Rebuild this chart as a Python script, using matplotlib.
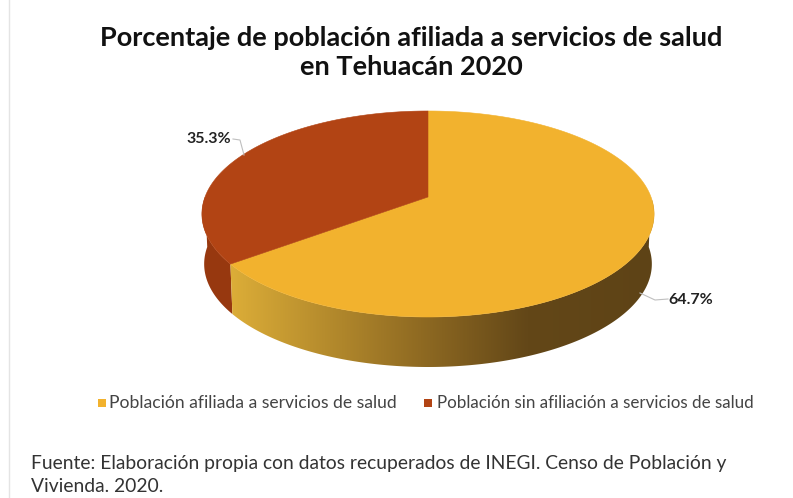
import matplotlib
matplotlib.use("Agg")
import matplotlib.pyplot as plt
from matplotlib.colors import LinearSegmentedColormap
from matplotlib.patches import Polygon, Rectangle
import numpy as np

titulo = "Porcentaje de población afiliada a servicios de salud\nen Tehuacán 2020"
categorias = ["Población afiliada a servicios de salud", "Población sin afiliación a servicios de salud"]
valores = [64.7, 35.3]
etiquetas = ["64.7%", "35.3%"]
colores = ["#F2B22E", "#B24414"]
fuente = "Fuente: Elaboración propia con datos recuperados de INEGI. Censo de Población y\nVivienda. 2020."

plt.rcParams["font.family"] = ["Lato", "DejaVu Sans"]

# geometria del pastel en pixeles de la imagen
CX, CY = 428, 197
A, B = 223, 100.2
P = 0.165
GROSOR = 50


def proyectar(ang, r=1.0, abajo=False):
    # ang en grados, 0 arriba y sentido horario
    t = np.radians(ang)
    u = r * np.sin(t)
    v = r * np.cos(t)
    w = 1 + P * v
    x = CX + A * u / w
    y = CY - B * v / w
    if abajo:
        x = CX + (x - CX) * 0.99
        y = y + GROSOR
    return x, y


def borde(a0, a1, abajo=False):
    ang = np.linspace(a0, a1, 200)
    return np.column_stack(proyectar(ang, abajo=abajo))


fig = plt.figure(figsize=(7.93, 4.98), dpi=100)
ax = fig.add_axes([0, 0, 1, 1])
ax.set_xlim(0, 793)
ax.set_ylim(498, 0)
ax.axis("off")

# marco gris tenue
ax.add_patch(Rectangle((8.5, -5), 800, 600, fill=False, ec="#E4E4E4", lw=1))

ax.text(411, 52, titulo, ha="center", va="center", fontsize=19.5, fontweight="bold",
        color="#111111", linespacing=1.25)

fin_amarillo = valores[0] / 100 * 360

# lado rojo
lado_rojo = np.vstack([borde(fin_amarillo, 270), borde(fin_amarillo, 270, abajo=True)[::-1]])
ax.add_patch(Polygon(lado_rojo, fc="#97380F", ec="none", zorder=2))

# lado amarillo con degradado
lado_am = np.vstack([borde(90, fin_amarillo), borde(90, fin_amarillo, abajo=True)[::-1]])
cmap_lado = LinearSegmentedColormap.from_list(
    "lado", [(0, "#DDAE38"), (0.45, "#8F6A22"), (0.7, "#634718"), (1, "#5E4316")])
parche = Polygon(lado_am, fc="none", ec="none", transform=ax.transData)
ax.add_patch(parche)
img = ax.imshow(np.linspace(0, 1, 256)[None, :], cmap=cmap_lado, extent=[228, 656, 380, 200],
                aspect="auto", zorder=2)
img.set_clip_path(parche)
ax.set_xlim(0, 793)
ax.set_ylim(498, 0)

# tapa superior
centro = proyectar(0, r=0.0)
tapa_am = np.vstack([[centro], borde(0, fin_amarillo)])
tapa_ro = np.vstack([[centro], borde(fin_amarillo, 360)])
ax.add_patch(Polygon(tapa_am, fc=colores[0], ec=colores[0], lw=0.4, zorder=3))
ax.add_patch(Polygon(tapa_ro, fc=colores[1], ec=colores[1], lw=0.4, zorder=3))

# etiquetas con linea guia
ax.plot([233, 240, 244], [139, 140, 155], color="#BFBFBF", lw=0.8, zorder=4)
ax.plot([640, 655, 668], [293, 300, 299], color="#BFBFBF", lw=0.8, zorder=4)
ax.text(209, 139, etiquetas[1], ha="center", va="center", fontsize=11.5, fontweight="bold", color="#222222")
ax.text(691, 300, etiquetas[0], ha="center", va="center", fontsize=11.5, fontweight="bold", color="#222222")

# leyenda
ax.add_patch(Rectangle((98, 399), 8, 8, fc=colores[0], ec="none"))
ax.add_patch(Rectangle((424, 399), 8, 8, fc=colores[1], ec="none"))
ax.text(109, 403, categorias[0], ha="left", va="center", fontsize=12.6, color="#444444")
ax.text(437, 403, categorias[1], ha="left", va="center", fontsize=12.25, color="#444444")

ax.text(31, 475, fuente, ha="left", va="center", fontsize=13.85, color="#333333", linespacing=1.4)

fig.savefig("out.png", dpi=100)
plt.close(fig)
